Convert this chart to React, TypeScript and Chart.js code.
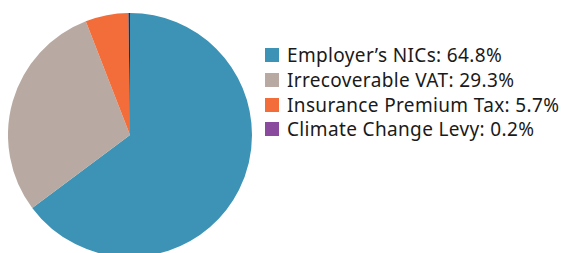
import React, { useEffect, useRef } from "react";
import { Chart, registerables } from "chart.js";

Chart.register(...registerables);

const categories = ["Employer’s NICs", "Irrecoverable VAT", "Insurance Premium Tax", "Climate Change Levy"];
const shares = [64.8, 29.3, 5.7, 0.2];
const sliceColors = ["#3d93b5", "#b8aaa2", "#f26d3a", "#1e2d5c"];
const legendColors = ["#3d93b5", "#b8aaa2", "#f26d3a", "#8a4a9e"];

export default function App() {
  const ref = useRef<HTMLCanvasElement | null>(null);
  useEffect(() => {
    if (!ref.current) return;
    const chart = new Chart(ref.current, {
      type: "pie",
      data: {
        labels: categories,
        datasets: [
          {
            data: shares,
            backgroundColor: sliceColors,
            borderWidth: 0,
          },
        ],
      },
      options: {
        responsive: false,
        animation: false,
        layout: { padding: 0 },
        plugins: { legend: { display: false }, tooltip: { enabled: false } },
      },
    });
    return () => chart.destroy();
  }, []);

  return (
    <div style={{ position: "fixed", inset: 0, overflow: "hidden", background: "#fff" }}>
      <canvas
        ref={ref}
        width={244}
        height={244}
        style={{ position: "absolute", left: 8, top: 13, width: 244, height: 244 }}
      />
      <div
        style={{
          position: "absolute",
          left: 265,
          top: 43,
          fontFamily: "'Noto Sans', sans-serif",
          fontSize: 19,
          letterSpacing: "0.35px",
          color: "#1a1a1a",
        }}
      >
        {categories.map((c, i) => (
          <div key={c} style={{ display: "flex", alignItems: "center", height: 24.7 }}>
            <span
              style={{
                display: "inline-block",
                width: 14,
                height: 14,
                background: legendColors[i],
                marginRight: 8,
                flex: "none",
              }}
            />
            <span style={{ whiteSpace: "nowrap", lineHeight: "24px" }}>
              {c}: {shares[i].toFixed(1)}%
            </span>
          </div>
        ))}
      </div>
    </div>
  );
}
